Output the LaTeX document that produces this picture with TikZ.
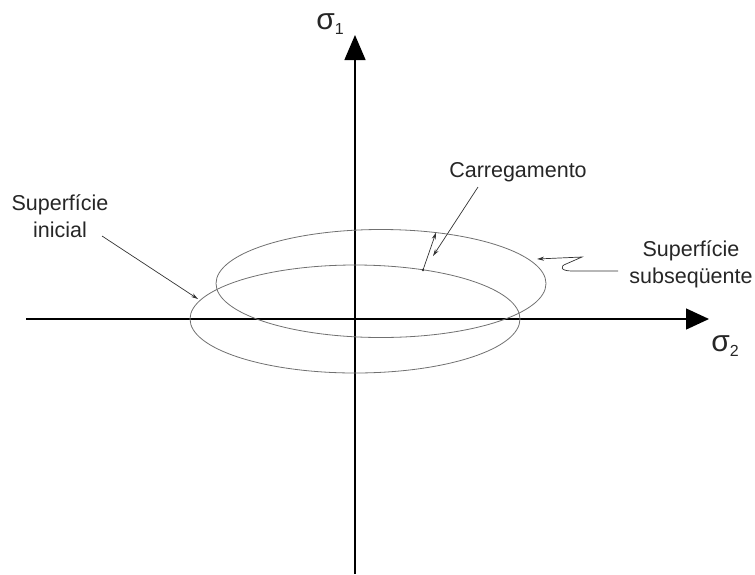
\documentclass[tikz,border=0pt]{standalone}
\usepackage{fontspec}
\setmainfont{Liberation Sans}
\usetikzlibrary{arrows.meta}
\definecolor{curvegray}{HTML}{707070}
\definecolor{leadgray}{HTML}{333333}
\begin{document}
\begin{tikzpicture}[x=1pt,y=-1pt,
  axisline/.style={line width=1.4pt,black},
  surface/.style={line width=0.8pt,curvegray},
  leader/.style={line width=0.7pt,leadgray,-{Stealth[length=7pt,width=4pt]}},
  label/.style={inner sep=0pt,align=center,font=\fontsize{21.5}{27}\selectfont,text=black!85},
  axlabel/.style={inner sep=0pt,font=\fontsize{30}{32}\selectfont,text=black!85}]
\useasboundingbox (0,0) rectangle (755,574);
% axes
\coordinate (xs) at (26,319);
\coordinate (xe) at (709,319);
\coordinate (ys) at (355,574);
\coordinate (ye) at (355,35);
\draw[axisline,-{Triangle[length=23pt,width=21pt]}] (xs) -- (xe);
\draw[axisline,-{Triangle[length=25pt,width=21pt]}] (ys) -- (ye);
\node[axlabel] (s1) at (330,24) {σ\raisebox{-0.3ex}{\fontsize{16}{18}\selectfont 1}};
\node[axlabel] (s2) at (725,346) {σ\raisebox{-0.3ex}{\fontsize{16}{18}\selectfont 2}};
% surfaces
\draw[surface] (355,319) ellipse [x radius=165, y radius=54];
\draw[surface] (381,283.5) ellipse [x radius=165, y radius=54];
% labels
\node[label] (ini) at (60,216) {Superfície\\inicial};
\node[label] (sub) at (691,264) {Superfície\\subseqüente};
\node[label] (car) at (518,172) {Carregamento};
% loading arrow
\coordinate (lp) at (423,270);
\coordinate (up) at (436,232.5);
\fill[leadgray] (lp) circle (1.3);
\draw[line width=0.7pt,leadgray,-{Stealth[length=7pt,width=4pt]}] (lp) -- (up);
% leaders
\coordinate (carA) at (478,187);
\coordinate (carB) at (433,256);
\draw[leader] (carA) -- (carB);
\coordinate (iniA) at (102,236);
\coordinate (iniB) at (198,299);
\draw[leader] (iniA) -- (iniB);
\coordinate (subA) at (618,271);
\coordinate (subB) at (537,259);
\draw[leader] (subA) -- (572,271) .. controls (560,271) and (560,266) .. (566,264) -- (582,257) -- (subB);
\end{tikzpicture}
\end{document}
